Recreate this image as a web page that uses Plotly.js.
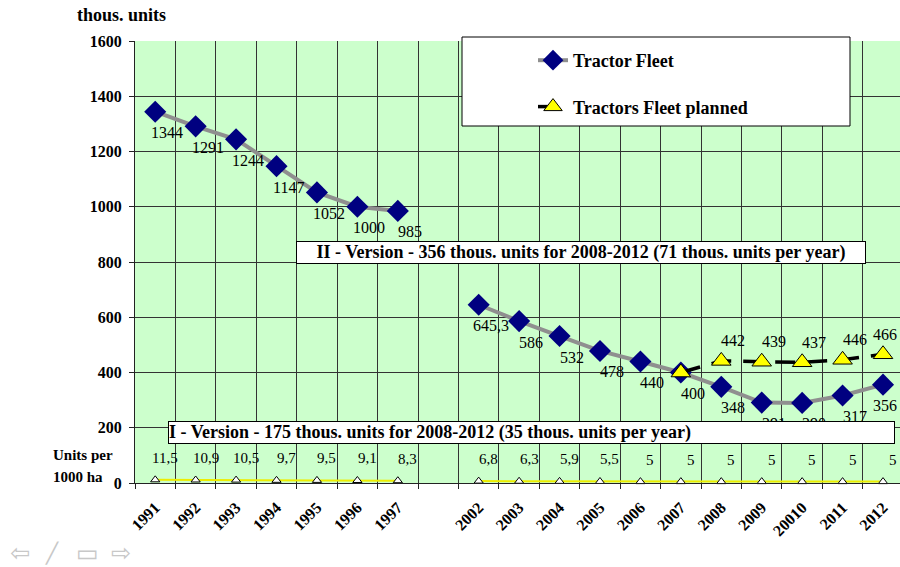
<!DOCTYPE html>
<html>
<head>
<meta charset="utf-8">
<script src="https://cdn.plot.ly/plotly-3.0.1.min.js"></script>
<style>
html,body{margin:0;padding:0;background:#fff;}
#chart{width:900px;height:567px;}
</style>
</head>
<body>
<div id="chart"></div>
<script>
// ---- data ----
const years = ["1991","1992","1993","1994","1995","1996","1997"," ","2002","2003","2004","2005","2006","2007","2008","2009","20010","2011","2012"];
const tractorFleet = [1344,1291,1244,1147,1052,1000,985,null,645.3,586,532,478,440,400,348,291,290,317,356];
const fleetPlanned = [null,null,null,null,null,null,null,null,null,null,null,null,null,400,442,439,437,446,466];
const unitsPer1000ha = [11.5,10.9,10.5,9.7,9.5,9.1,8.3,null,6.8,6.3,5.9,5.5,5,5,5,5,5,5,5];
const seriesNames = ["Tractor Fleet","Tractors Fleet planned"];
const versionII = "II - Version - 356 thous. units for 2008-2012 (71 thous. units per year)";
const versionI = "I - Version - 175 thous. units for 2008-2012 (35 thous. units per year)";

const SERIF = "'Liberation Serif', 'Times New Roman', serif";
const fmt = v => String(v).replace('.', ',');
const last = years.length - 1;

const traces = [
  {
    x: years, y: unitsPer1000ha, type: 'scatter', mode: 'lines+markers',
    line: {color: '#eded00', width: 2},
    marker: {symbol: 'triangle-up', size: 8, color: '#ffffff', line: {color: '#000', width: 1}},
    showlegend: false, connectgaps: false, cliponaxis: false, hoverinfo: 'skip'
  },
  {
    x: years, y: tractorFleet, type: 'scatter', mode: 'lines+markers', name: seriesNames[0],
    legendgroup: 'a',
    line: {color: '#8f8f8f', width: 4},
    marker: {symbol: 'diamond', size: 17, color: '#000080', line: {width: 0}},
    connectgaps: false, cliponaxis: false
  },
  {
    x: years, y: fleetPlanned, type: 'scatter', mode: 'lines+markers', name: seriesNames[1],
    legendgroup: 'b',
    line: {color: '#000', width: 3.5, dash: '20px,12px'},
    marker: {symbol: 'triangle-up', size: 17, color: '#ffff00', line: {color: '#000', width: 1}},
    connectgaps: false, cliponaxis: false
  }
];

const annotations = [];
const labFont = {family: SERIF, size: 16, color: '#000'};
tractorFleet.forEach((v, i) => {
  if (v === null) return;
  annotations.push({x: i, y: v, xref: 'x', yref: 'y', text: fmt(v), showarrow: false,
    xshift: i === last ? 2 : 12, yshift: -21, font: labFont});
});
fleetPlanned.forEach((v, i) => {
  if (v === null || tractorFleet[i] === v) return;
  annotations.push({x: i, y: v, xref: 'x', yref: 'y', text: fmt(v), showarrow: false,
    xshift: i === last ? 2 : 12, yshift: 20, font: labFont});
});
unitsPer1000ha.forEach((v, i) => {
  if (v === null) return;
  annotations.push({x: i, y: v, xref: 'x', yref: 'y', text: fmt(v), showarrow: false,
    xshift: 10, yshift: 22, font: {family: SERIF, size: 15, color: '#000'}});
});

const px = p => (p - 135) / 765;   // pixel -> paper x
const py = p => (483 - p) / 442;   // pixel -> paper y

annotations.push(
  {xref: 'paper', yref: 'paper', x: px(296), y: py(252.5), xanchor: 'left', yanchor: 'middle',
   text: '<b>' + versionII + '</b>', showarrow: false, bgcolor: '#fff', bordercolor: '#000', borderwidth: 1,
   borderpad: 0, width: 568, align: 'center', font: {family: SERIF, size: 18, color: '#000'}},
  {xref: 'paper', yref: 'paper', x: px(168), y: py(432.5), xanchor: 'left', yanchor: 'middle',
   text: '<b>' + versionI + '</b>', showarrow: false, bgcolor: '#fff', bordercolor: '#000', borderwidth: 1,
   borderpad: 0, width: 725, align: 'left', font: {family: SERIF, size: 18, color: '#000'}},
  {xref: 'paper', yref: 'paper', x: px(75), y: py(15), xanchor: 'left', yanchor: 'middle',
   text: '<b>thous. units</b>', showarrow: false, font: {family: SERIF, size: 18, color: '#000'}},
  {xref: 'paper', yref: 'paper', x: px(51), y: py(455), xanchor: 'left', yanchor: 'middle',
   text: '<b>Units per</b>', showarrow: false, font: {family: SERIF, size: 15, color: '#000'}},
  {xref: 'paper', yref: 'paper', x: px(51), y: py(477), xanchor: 'left', yanchor: 'middle',
   text: '<b>1000 ha</b>', showarrow: false, font: {family: SERIF, size: 15, color: '#000'}},
  {xref: 'paper', yref: 'paper', x: px(20), y: py(553), xanchor: 'center', yanchor: 'middle',
   text: '⇦', showarrow: false, font: {family: 'DejaVu Sans', size: 24, color: '#c8c8c8'}},
  {xref: 'paper', yref: 'paper', x: px(52), y: py(553), xanchor: 'center', yanchor: 'middle',
   text: '╱', showarrow: false, font: {family: 'DejaVu Sans', size: 20, color: '#c8c8c8'}},
  {xref: 'paper', yref: 'paper', x: px(87), y: py(553), xanchor: 'center', yanchor: 'middle',
   text: '▭', showarrow: false, font: {family: 'DejaVu Sans', size: 24, color: '#c8c8c8'}},
  {xref: 'paper', yref: 'paper', x: px(121), y: py(553), xanchor: 'center', yanchor: 'middle',
   text: '⇨', showarrow: false, font: {family: 'DejaVu Sans', size: 24, color: '#c8c8c8'}}
);

const layout = {
  width: 900, height: 567,
  margin: {l: 135, r: 0, t: 41, b: 84},
  paper_bgcolor: '#ffffff',
  plot_bgcolor: '#ccffcc',
  font: {family: SERIF, color: '#000'},
  showlegend: true,
  legend: {
    x: px(533), y: py(42), xanchor: 'left', yanchor: 'top',
    bgcolor: 'rgba(0,0,0,0)', borderwidth: 0,
    traceorder: 'grouped', tracegroupgap: 20,
    font: {family: SERIF, size: 18, color: '#000', weight: 'bold'}
  },
  xaxis: {
    type: 'category', categoryorder: 'array', categoryarray: years,
    range: [-0.5, 18.42], tickson: 'boundaries',
    ticks: 'outside', ticklen: 5, tickcolor: '#222', tickwidth: 1,
    showgrid: true, gridcolor: '#333', gridwidth: 1,
    showline: true, linecolor: '#222', linewidth: 1,
    tickangle: -45, ticklabelstandoff: 8,
    tickfont: {family: SERIF, size: 16, color: '#000', weight: 'bold'},
    fixedrange: true
  },
  yaxis: {
    range: [0, 1600], dtick: 200, tick0: 0,
    ticks: 'outside', ticklen: 5, tickcolor: '#222',
    showgrid: true, gridcolor: '#333', gridwidth: 1,
    showline: true, linecolor: '#222', linewidth: 1, zeroline: false,
    ticklabelstandoff: 4,
    tickfont: {family: SERIF, size: 16, color: '#000', weight: 'bold'},
    fixedrange: true
  },
  shapes: [
    {type: 'rect', xref: 'paper', yref: 'paper', x0: px(462), x1: px(850), y0: py(126), y1: py(37),
     fillcolor: '#ffffff', line: {color: '#000', width: 1}, layer: 'above'}
  ],
  annotations: annotations
};

Plotly.newPlot('chart', traces, layout, {displayModeBar: false, staticPlot: true});
</script>
</body>
</html>
